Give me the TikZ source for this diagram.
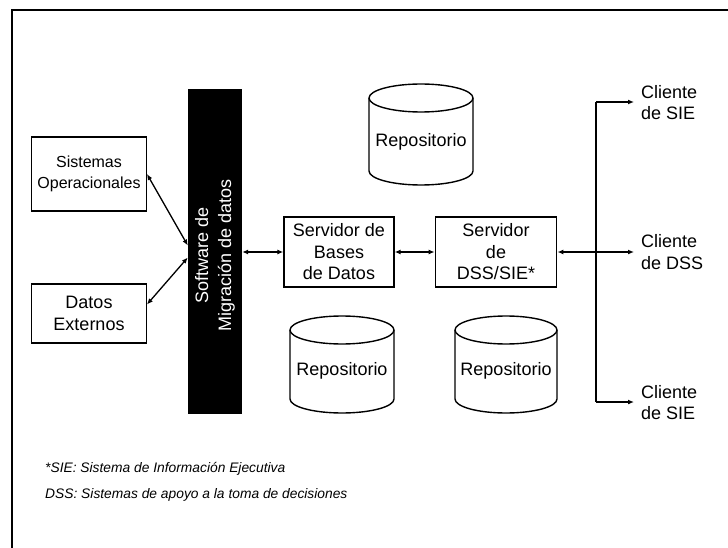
\documentclass[tikz,border=0pt]{standalone}
\usepackage{fontspec}
\setmainfont{Liberation Sans}
\usetikzlibrary{arrows.meta,calc}

% Cylinder outline: #1 centre x, #2 top y, #3 bottom y, #4 half width
\newcommand\repocyl[4]{%
  \draw[cyl] (#1-#4,#2+14) -- (#1-#4,#3-14)
     arc[start angle=180,end angle=0,x radius=#4,y radius=14]
     -- (#1+#4,#2+14)
     arc[start angle=0,end angle=-180,x radius=#4,y radius=14] -- cycle;
  \draw[cyl,fill=none] (#1-#4,#2+14)
     arc[start angle=180,end angle=0,x radius=#4,y radius=14];
}

\begin{document}
\begin{tikzpicture}[x=1pt,y=-1pt,
  every node/.style={font=\fontsize{18}{21.5}\selectfont, inner sep=0pt},
  box/.style={draw, line width=1.4pt, fill=white, align=center},
  cyl/.style={draw, line width=1.4pt, fill=white},
  tip/.tip={Latex[length=6pt,width=5pt]},
  link/.style={line width=1.3pt, tip-tip},
  feed/.style={line width=1.3pt, -tip},
  client/.style={anchor=west, align=left, inner xsep=7pt},
  note/.style={font=\itshape\fontsize{13.8}{16}\selectfont, anchor=west}
]
\useasboundingbox (0,0) rectangle (728,548);

% frame
\draw[line width=1.5pt] (12,548) -- (12,10) -- (728,10);

% data migration software bar
\node[fill=black, minimum width=54pt, minimum height=325pt] (bar) at (215,251.5) {};
\node[rotate=90, text=white, align=center,
      font=\fontsize{18}{23}\selectfont] (bartext) at (215,255.5)
  {Software de\\Migración de datos};

% source systems
\node[box, minimum width=114.5pt, minimum height=74pt,
      font=\fontsize{16}{21}\selectfont] (so) at (89,174) {Sistemas\\Operacionales};
\node[box, minimum width=114.5pt, minimum height=59pt] (de) at (89,313.5) {Datos\\Externos};

% servers
\node[box, minimum width=110pt, minimum height=70pt] (sbd) at (339,252)
  {Servidor de\\Bases\\de Datos};
\node[box, minimum width=121.5pt, minimum height=70pt] (sdss) at (496,252)
  {Servidor\\de\\DSS/SIE*};

% repositories
\repocyl{421}{84}{185}{52}
\node (r1) at (421,142) {Repositorio};
\repocyl{342}{316}{413}{52}
\node (r2) at (342,371) {Repositorio};
\repocyl{506}{316}{413}{51}
\node (r3) at (506,371) {Repositorio};

% clients
\node[client] (c1) at (634,102.5) {Cliente\\de SIE};
\node[client] (c2) at (634,252) {Cliente\\de DSS};
\node[client] (c3) at (634,402.5) {Cliente\\de SIE};

% connectors
\draw[link] (so.east) -- ([yshift=6pt]bar.west);
\draw[link] ([yshift=9pt]de.east) -- ([yshift=-6pt]bar.west);
\draw[link] (bar.east |- sbd.west) -- (sbd.west);
\draw[link] (sbd.east) -- (sdss.west);
\draw[link] (sdss.east) -- (c2.west);

\coordinate (jt) at (596,102);
\coordinate (jb) at (596,402);
\draw[line width=1.3pt] (jt) -- (jb);
\draw[feed] (jt) -- (jt -| c1.west);
\draw[feed] (jb) -- (jb -| c3.west);

% notes
\node[note] (n1) at (45,468.5) {*SIE: Sistema de Información Ejecutiva};
\node[note] (n2) at (45,495) {DSS: Sistemas de apoyo a la toma de decisiones};
\end{tikzpicture}
\end{document}
